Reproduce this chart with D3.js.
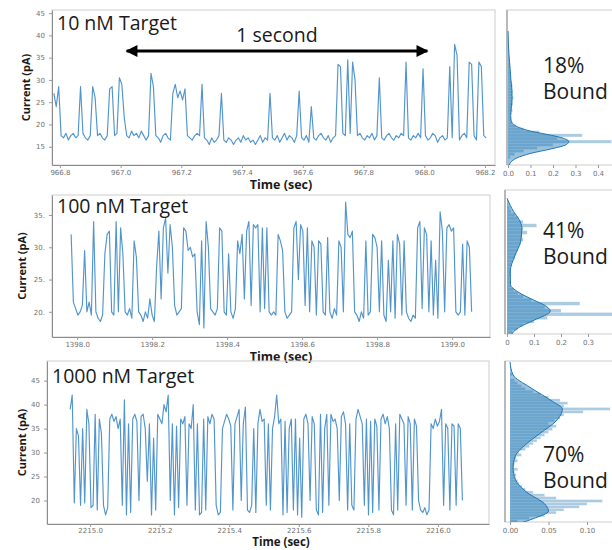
<!DOCTYPE html>
<html>
<head>
<meta charset="utf-8">
<script src="https://cdn.jsdelivr.net/npm/d3@7"></script>
<style>
  body { margin: 0; background: #fff; }
  svg { display: block; background: #fff; }
  .tick text { font-family: "DejaVu Sans", sans-serif; font-size: 7px; fill: #707070; }
  .tick line { stroke: #9a9a9a; }
  .domain { stroke: #8c8c8c; }
</style>
</head>
<body>
<svg id="chart" width="612" height="550"></svg>
<script>
// ---------------- data ----------------
var titles = ["10 nM Target", "100 nM Target", "1000 nM Target"];
var boundLabels = ["18%", "41%", "70%"];

// current traces, uniformly sampled (start time, sample step in sec)
var trace1Start = 966.78, trace1Step = 0.008;
var trace1Current = [
  27, 24, 28.5, 17.5, 17, 18, 16.5, 17.5, 18, 17,
  17.5, 28.5, 18, 17, 16.5, 17.5, 28.5, 26, 17.5, 18,
  17, 16.5, 17.5, 28, 28.5, 17.5, 18, 30.5, 29, 21.5,
  17.5, 17, 18.5, 17.5, 18, 17, 18.5, 17.5, 16.5, 17.5,
  31.5, 28.5, 17.5, 17, 16, 17.5, 18, 17, 16.5, 27,
  29, 26, 27.5, 25.5, 28, 17.5, 17, 16.5, 17.5, 18,
  17.5, 29, 17, 16.5, 15.5, 17, 16, 16.5, 17.5, 27,
  16.5, 16, 17, 16.5, 15.5, 16.5, 17, 16, 17.5, 16.5,
  17, 16, 16.5, 15.5, 16.5, 17.5, 16, 17, 16.5, 27,
  17, 16.5, 17.5, 16, 17, 18, 16.5, 17.5, 17, 16,
  17.5, 27.5, 17, 16.5, 17.5, 16, 24, 17, 16.5, 17.5,
  18, 17, 16.5, 17.5, 16, 17, 17.5, 33.5, 33, 18,
  17.5, 34.5, 18, 34, 30, 17.5, 18, 17, 16.5, 17.5,
  17, 18, 16.5, 17.5, 30.5, 17, 16.5, 17.5, 18, 17,
  16.5, 17.5, 17, 18, 17.5, 34, 17, 16.5, 17.5, 17,
  18, 17, 32.5, 17.5, 16.5, 17, 18, 17.5, 16, 17,
  17.5, 16.5, 17, 33, 17, 38, 35.5, 16.5, 17.5, 18,
  17, 34, 33.5, 17.5, 16.5, 34, 33, 17.5, 17
];

var trace2Start = 1397.984, trace2Step = 0.006;
var trace2Current = [
  32, 21.5, 20.5, 19.5, 20, 21, 29.5, 20, 21.5, 19.5,
  34, 20, 19, 18.5, 19.5, 29, 32, 32.5, 20, 19.5,
  34, 20, 33, 29, 20, 19.5, 20.5, 19, 31, 28.5,
  20, 19.5, 18.5, 20, 19, 22, 19.5, 18.5, 27, 32.5,
  22, 33, 34.5, 26, 33.5, 30, 21, 19.5, 20, 20.5,
  33, 32.5, 29.5, 30, 28.5, 29, 20, 18, 31, 17.5,
  34, 30, 20.5, 20, 19.5, 20.5, 33, 32.5, 20, 19.5,
  29, 20, 19, 20.5, 31, 29, 32, 22, 32.5, 34,
  21, 33.5, 33, 33.5, 20, 33, 20.5, 33, 20, 19.5,
  20, 19.5, 32, 31, 29.5, 20, 19, 19.5, 20, 33,
  34, 25, 33.5, 32.5, 21, 33, 20, 31, 30, 19.5,
  31, 30.5, 20, 19.5, 31.5, 20, 19, 20.5, 19.5, 31,
  30, 20, 37, 32, 31.5, 32.5, 20, 19.5, 18.5, 20,
  19, 31, 19.5, 20, 32, 31.5, 30, 20, 31, 19.5,
  18.5, 28, 20, 31, 19, 32, 30.5, 19.5, 31, 20,
  19, 18.5, 19.5, 19, 33, 34, 20.5, 33, 32, 20,
  31, 19.5, 28, 19, 35.5, 32.5, 20, 33, 33.5, 32.5,
  33, 20, 19.5, 20, 30.5, 19.5, 31, 30, 20
];

var trace3Start = 2214.9425, trace3Step = 0.006;
var trace3Current = [
  39, 42, 19.5, 35, 33.5, 19, 35, 19.5, 39, 36,
  18.5, 19, 38, 18, 37, 34, 19, 17, 18.5, 37,
  38, 36.5, 37.5, 35, 37, 19, 41, 17, 36, 17.5,
  37, 38, 36.5, 20, 37.5, 38, 35, 24, 36, 17,
  33, 18, 38, 37, 36, 40, 38.5, 42, 20, 36,
  17, 35.5, 18.5, 37, 36, 37.5, 19, 36, 35, 40,
  18, 36, 17, 17.5, 37, 18, 37.5, 36, 38, 37,
  19, 17, 17.5, 35, 36.5, 38, 37, 35.5, 18, 36,
  37.5, 39, 20, 36, 39.5, 18, 17.5, 19, 35, 17.5,
  36, 39, 36.5, 37, 19, 36, 18, 35, 37.5, 42,
  36, 37, 17, 36.5, 17.5, 35, 37, 18, 37, 17,
  33, 16.5, 37, 38, 36, 20, 37.5, 36, 18, 17,
  38, 17.5, 35, 38, 19, 38, 36.5, 37, 35, 20,
  37.5, 38.5, 36, 18, 36, 19, 18, 37, 39, 37.5,
  36, 19, 37, 17, 36.5, 17.5, 37, 35.5, 18, 37,
  38, 36, 37.5, 35, 18, 17, 36, 18, 38, 37,
  36, 19, 37.5, 36, 18, 37, 35.5, 20, 18, 17.5,
  18.5, 17, 18, 36, 35, 37, 35.5, 36.5, 39, 19,
  36, 35, 18, 36, 35.5, 19, 36, 35, 20
];

// histograms: bin lower edge (pA) and density
var hist1BinWidth = 0.7;
var hist1BinStart = [12.3, 13.0, 13.7, 14.4, 15.1, 15.8, 16.5, 17.2, 17.9, 18.6, 19.3, 20.0, 20.7, 21.4,
  22.1, 22.8, 23.5, 24.2, 24.9, 25.6, 26.3, 27.0, 27.7, 28.4, 29.1, 29.8, 30.5, 31.2, 31.9, 32.6,
  33.3, 34.0, 34.7, 35.4, 36.1, 37.5];
var hist1Density = [0.01, 0.03, 0.07, 0.13, 0.2, 0.46, 0.22, 0.33, 0.14, 0.07, 0.035, 0.02, 0.015, 0.012,
  0.015, 0.02, 0.018, 0.022, 0.02, 0.025, 0.02, 0.022, 0.018, 0.02, 0.015, 0.012, 0.01, 0.012, 0.008, 0.01,
  0.008, 0.006, 0.004, 0.003, 0.002, 0.001];

var hist2BinWidth = 0.55;
var hist2BinStart = [16.6, 17.15, 17.7, 18.25, 18.8, 19.35, 19.9, 20.45, 21.0, 21.55, 22.1, 22.65, 23.2,
  23.75, 24.3, 24.85, 25.4, 25.95, 26.5, 27.05, 27.6, 28.15, 28.7, 29.25, 29.8, 30.35, 30.9, 31.45,
  32.0, 32.55, 33.1, 33.65, 34.2, 34.75, 35.3, 35.85, 36.4, 37.0];
var hist2Density = [0.02, 0.04, 0.06, 0.1, 0.15, 0.39, 0.2, 0.14, 0.27, 0.09, 0.06, 0.04, 0.025,
  0.015, 0.012, 0.01, 0.012, 0.015, 0.012, 0.018, 0.02, 0.03, 0.035, 0.04, 0.045, 0.05, 0.06, 0.055,
  0.075, 0.06, 0.11, 0.06, 0.04, 0.03, 0.015, 0.01, 0.005, 0.003];

var hist3BinWidth = 0.6;
var hist3BinStart = [15.4, 16.0, 16.6, 17.2, 17.8, 18.4, 19.0, 19.6, 20.2, 20.8, 21.4, 22.0, 22.6, 23.2,
  23.8, 24.4, 25.0, 25.6, 26.2, 26.8, 27.4, 28.0, 28.6, 29.2, 29.8, 30.4, 31.0, 31.6, 32.2, 32.8,
  33.4, 34.0, 34.6, 35.2, 35.8, 36.4, 37.0, 37.6, 38.2, 38.8, 39.4, 40.0, 40.6, 41.2, 41.8, 42.4,
  43.0, 43.6, 44.2, 44.8, 46.0];
var hist3Density = [0.01, 0.025, 0.045, 0.06, 0.07, 0.09, 0.1, 0.12, 0.06, 0.045, 0.03, 0.02, 0.016, 0.012,
  0.01, 0.007, 0.008, 0.006, 0.01, 0.005, 0.006, 0.01, 0.008, 0.015, 0.012, 0.02, 0.025, 0.03, 0.035, 0.04,
  0.045, 0.05, 0.055, 0.06, 0.05, 0.058, 0.065, 0.07, 0.095, 0.13, 0.07, 0.075, 0.065, 0.05, 0.04, 0.03,
  0.02, 0.015, 0.01, 0.006, 0.003];

// kernel density curves (current pA, density)
var kde1Current = [10.9, 11.5, 12.5, 13.5, 14.5, 15.5, 16.2, 17, 17.8, 18.5, 19.3, 20, 21, 22, 24, 26, 28, 30, 32, 34, 36, 38, 41];
var kde1Density = [0.005, 0.012, 0.04, 0.1, 0.19, 0.26, 0.27, 0.24, 0.17, 0.1, 0.05, 0.025, 0.013, 0.012, 0.015, 0.018, 0.017, 0.013, 0.01, 0.007, 0.004, 0.002, 0];
var kde2Current = [16.1, 16.7, 17.6, 18.7, 20.1, 21, 21.8, 23.1, 24.2, 26.2, 28.8, 30.8, 33, 34.3, 35.5, 36.5, 37.6];
var kde2Density = [0.015, 0.02, 0.045, 0.1, 0.16, 0.14, 0.1, 0.04, 0.013, 0.012, 0.03, 0.05, 0.055, 0.045, 0.025, 0.012, 0];
var kde3Current = [15.1, 16.2, 17.8, 19.3, 21.7, 24.4, 26.8, 29.3, 31.9, 34, 36.6, 39.1, 40.7, 43.6, 46.2, 48.9];
var kde3Density = [0.01, 0.03, 0.05, 0.045, 0.022, 0.007, 0.004, 0.007, 0.022, 0.039, 0.06, 0.068, 0.055, 0.026, 0.004, 0];

// tick values
var xTicks1 = [966.8, 967.0, 967.2, 967.4, 967.6, 967.8, 968.0, 968.2];
var xTicks2 = [1398.0, 1398.2, 1398.4, 1398.6, 1398.8, 1399.0];
var xTicks3 = [2215.0, 2215.2, 2215.4, 2215.6, 2215.8, 2216.0];
var yTicks1 = [15, 20, 25, 30, 35, 40, 45];
var yTicks2 = [20, 25, 30, 35];
var yTicks3 = [20, 25, 30, 35, 40, 45];
var histTicks1 = [0, 0.1, 0.2, 0.3, 0.4];
var histTicks2 = [0, 0.1, 0.2, 0.3];
var histTicks3 = [0, 0.05, 0.1];

// one-second scale bar on the top trace
var scaleBarStart = 967.01, scaleBarEnd = 968.02;

// ---------------- layout ----------------
var textFont = "'Open Sans', sans-serif";
var traceColor = "#3483c4";
var histColor = "#1f77b4";

var panels = [
  {
    title: titles[0], bound: boundLabels[0],
    current: trace1Current, start: trace1Start, step: trace1Step,
    xDomain: [966.774, 968.233], yDomain: [10.9, 45.7],
    box: { left: 52, right: 495, top: 10, bottom: 165 },
    xTicks: xTicks1, yTicks: yTicks1, yFormat: d3.format("d"),
    titleY: 30, yLabelX: 30, timeY: 189, timeSize: 12.5, xPad: 2,
    hist: {
      binStart: hist1BinStart, density: hist1Density, binWidth: hist1BinWidth,
      kdeCurrent: kde1Current, kdeDensity: kde1Density,
      domain: [0, 0.4], range: [508, 598], ticks: histTicks1, format: d3.format(".1f"),
      box: { left: 507, right: 640, top: 10, bottom: 165 }, labelY: 73
    }
  },
  {
    title: titles[1], bound: boundLabels[1],
    current: trace2Current, start: trace2Start, step: trace2Step,
    xDomain: [1397.933, 1399.101], yDomain: [16.1, 38.1],
    box: { left: 52, right: 490, top: 195, bottom: 337 },
    xTicks: xTicks2, yTicks: yTicks2, yFormat: function (d) { return d + "."; },
    titleY: 213, yLabelX: 26, timeY: 361, timeSize: 12.5, xPad: 2,
    hist: {
      binStart: hist2BinStart, density: hist2Density, binWidth: hist2BinWidth,
      kdeCurrent: kde2Current, kdeDensity: kde2Density,
      domain: [0, 0.3], range: [507, 588], ticks: histTicks2,
      format: function (d) { return d === 0 ? "0" : d3.format(".1f")(d); },
      box: { left: 505, right: 640, top: 190, bottom: 334 }, labelY: 238
    }
  },
  {
    title: titles[2], bound: boundLabels[2],
    current: trace3Current, start: trace3Start, step: trace3Step,
    xDomain: [2214.876, 2216.147], yDomain: [15.1, 49.1],
    box: { left: 47, right: 489, top: 361, bottom: 524 },
    xTicks: xTicks3, yTicks: yTicks3, yFormat: d3.format("d"),
    titleY: 383, yLabelX: 26, timeY: 545.5, timeSize: 11.5, xPad: 1,
    hist: {
      binStart: hist3BinStart, density: hist3Density, binWidth: hist3BinWidth,
      kdeCurrent: kde3Current, kdeDensity: kde3Density,
      domain: [0, 0.1], range: [510, 587], ticks: histTicks3, format: d3.format(".2f"),
      box: { left: 505, right: 640, top: 361, bottom: 522 }, labelY: 462
    }
  }
];

var svg = d3.select("#chart");

function frame(g, b) {
  g.append("rect")
    .attr("x", b.left).attr("y", b.top)
    .attr("width", b.right - b.left).attr("height", b.bottom - b.top)
    .attr("fill", "none").attr("stroke", "#cdcdcd").attr("stroke-width", 1);
}

panels.forEach(function (p, k) {
  var g = svg.append("g").attr("class", "panel" + k);
  var x = d3.scaleLinear().domain(p.xDomain).range([p.box.left, p.box.right]);
  var y = d3.scaleLinear().domain(p.yDomain).range([p.box.bottom, p.box.top]);

  // ---- trace panel ----
  frame(g, p.box);

  g.append("g")
    .attr("transform", "translate(0," + p.box.bottom + ")")
    .call(d3.axisBottom(x).tickValues(p.xTicks).tickFormat(d3.format(".1f")).tickSize(3).tickPadding(p.xPad).tickSizeOuter(0));
  g.append("g")
    .attr("transform", "translate(" + p.box.left + ",0)")
    .call(d3.axisLeft(y).tickValues(p.yTicks).tickFormat(p.yFormat).tickSize(3).tickPadding(4).tickSizeOuter(0));

  var line = d3.line()
    .x(function (d, i) { return x(p.start + i * p.step); })
    .y(function (d) { return y(d); });
  g.append("path")
    .datum(p.current)
    .attr("d", line)
    .attr("fill", "none")
    .attr("stroke", traceColor)
    .attr("stroke-width", 1.15)
    .attr("stroke-opacity", 0.85)
    .attr("stroke-linejoin", "round");

  g.append("text")
    .attr("x", p.box.left + 5).attr("y", p.titleY)
    .attr("font-family", textFont).attr("font-size", 19.5).attr("fill", "#1a1a1a")
    .text(p.title);

  g.append("text")
    .attr("transform", "translate(" + p.yLabelX + "," + (p.box.top + p.box.bottom) / 2 + ") rotate(-90)")
    .attr("text-anchor", "middle")
    .attr("font-family", textFont).attr("font-weight", "bold").attr("font-size", 11).attr("fill", "#1a1a1a")
    .text("Current (pA)");

  // time label sits on a white patch that hides the frame line under it
  var timeG = g.append("g");
  var timeBg = timeG.append("rect").attr("fill", "#fff");
  var timeText = timeG.append("text")
    .attr("x", 281).attr("y", p.timeY)
    .attr("text-anchor", "middle")
    .attr("font-family", textFont).attr("font-weight", "bold").attr("font-size", p.timeSize).attr("fill", "#1a1a1a")
    .text("Time (sec)");
  var bb = timeText.node().getBBox();
  timeBg.attr("x", bb.x - 4).attr("y", bb.y + 3).attr("width", bb.width + 8).attr("height", bb.height - 3);

  // ---- histogram panel ----
  var h = p.hist;
  var hx = d3.scaleLinear().domain(h.domain).range(h.range);
  var hg = g.append("g");
  hg.append("clipPath").attr("id", "hclip" + k)
    .append("rect")
    .attr("x", h.box.left).attr("y", h.box.top)
    .attr("width", h.box.right - h.box.left).attr("height", h.box.bottom - h.box.top);
  frame(hg, h.box);

  var inner = hg.append("g").attr("clip-path", "url(#hclip" + k + ")");
  inner.selectAll("rect.bar")
    .data(h.binStart)
    .enter().append("rect")
    .attr("class", "bar")
    .attr("x", hx(0))
    .attr("y", function (d) { return y(d + h.binWidth); })
    .attr("width", function (d, i) { return hx(h.density[i]) - hx(0); })
    .attr("height", function (d) { return y(d) - y(d + h.binWidth); })
    .attr("fill", histColor).attr("fill-opacity", 0.38)
    .attr("stroke", "#fff").attr("stroke-width", 0.4).attr("stroke-opacity", 0.6);

  var kde = d3.zip(h.kdeCurrent, h.kdeDensity);
  inner.append("path")
    .datum(kde)
    .attr("d", d3.area().curve(d3.curveMonotoneY)
      .y(function (d) { return y(d[0]); })
      .x0(hx(0))
      .x1(function (d) { return hx(d[1]); }))
    .attr("fill", histColor).attr("fill-opacity", 0.45);
  inner.append("path")
    .datum(kde)
    .attr("d", d3.line().curve(d3.curveMonotoneY)
      .y(function (d) { return y(d[0]); })
      .x(function (d) { return hx(d[1]); }))
    .attr("fill", "none").attr("stroke", histColor).attr("stroke-width", 1);

  hg.append("g")
    .attr("transform", "translate(0," + h.box.bottom + ")")
    .call(d3.axisBottom(hx).tickValues(h.ticks).tickFormat(h.format).tickSize(3).tickPadding(3).tickSizeOuter(0))
    .select(".domain").remove();
  hg.append("line")
    .attr("x1", h.box.left).attr("x2", h.box.left)
    .attr("y1", h.box.top).attr("y2", h.box.bottom)
    .attr("stroke", "#8c8c8c");

  hg.append("text")
    .attr("x", 543).attr("y", h.labelY)
    .attr("font-family", textFont).attr("font-size", 21).attr("fill", "#1a1a1a")
    .text(p.bound);
  hg.append("text")
    .attr("x", 543).attr("y", h.labelY + 26)
    .attr("font-family", textFont).attr("font-size", 21).attr("fill", "#1a1a1a")
    .text("Bound");

  // one-second scale bar on the first trace
  if (k === 0) {
    var defs = svg.append("defs");
    ["start", "end"].forEach(function (side) {
      defs.append("marker")
        .attr("id", "arrow-" + side)
        .attr("viewBox", "0 0 10 10").attr("refX", 9).attr("refY", 5)
        .attr("markerWidth", 5).attr("markerHeight", 4)
        .attr("markerUnits", "strokeWidth")
        .attr("orient", side === "end" ? "auto" : "auto-start-reverse")
        .append("path").attr("d", "M0,0L10,5L0,10Z").attr("fill", "#000");
    });
    g.append("line")
      .attr("x1", x(scaleBarStart) + 3).attr("x2", x(scaleBarEnd) - 3)
      .attr("y1", 51).attr("y2", 51)
      .attr("stroke", "#000").attr("stroke-width", 3)
      .attr("marker-start", "url(#arrow-start)")
      .attr("marker-end", "url(#arrow-end)");
    g.append("text")
      .attr("x", (x(scaleBarStart) + x(scaleBarEnd)) / 2).attr("y", 42)
      .attr("text-anchor", "middle")
      .attr("font-family", textFont).attr("font-size", 19.5).attr("fill", "#1a1a1a")
      .text("1 second");
  }
});
</script>
</body>
</html>
